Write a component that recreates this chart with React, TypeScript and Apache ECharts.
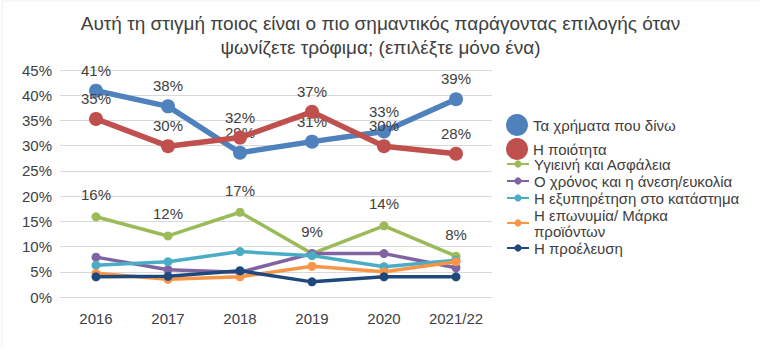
import React, { useEffect, useRef } from "react";
import * as echarts from "echarts";

const categories = ["2016", "2017", "2018", "2019", "2020", "2021/22"];
const seriesNames = [
  "Τα χρήματα που δίνω",
  "Η ποιότητα",
  "Υγιεινή και Ασφάλεια",
  "Ο χρόνος και η άνεση/ευκολία",
  "Η εξυπηρέτηση στο κατάστημα",
  "Η επωνυμία/ Μάρκα\nπροϊόντων",
  "Η προέλευση",
];
const money = [40.9, 37.8, 28.6, 30.8, 32.8, 39.2];
const quality = [35.3, 29.9, 31.6, 36.7, 29.9, 28.4];
const hygiene = [15.9, 12.1, 16.8, 8.6, 14.1, 8.1];
const time = [7.9, 5.4, 4.9, 8.6, 8.6, 5.8];
const service = [6.3, 7.0, 9.0, 8.2, 6.0, 7.3];
const brand = [4.7, 3.5, 4.0, 6.1, 5.0, 7.0];
const origin = [4.0, 4.1, 5.2, 3.0, 4.0, 4.0];
const colors = ["#4F81BD", "#C0504D", "#9BBB59", "#8064A2", "#4BACC6", "#F79646", "#1F497D"];
const seriesData = [money, quality, hygiene, time, service, brand, origin];
const labeled = [true, true, true, false, false, false, false];

const FONT = "'Liberation Sans', Arial, sans-serif";

export default function App() {
  const ref = useRef<HTMLDivElement>(null);
  useEffect(() => {
    document.body.style.margin = "0";
    const chart = echarts.init(ref.current!, null, { renderer: "svg" });
    const series = seriesData.map((d, i) => {
      const big = i < 2;
      return {
        name: seriesNames[i],
        type: "line",
        data: d,
        symbol: "circle",
        symbolSize: big ? 14 : 9,
        z: 2 + i,
        lineStyle: { width: big ? 5.5 : 3.5, color: colors[i] },
        itemStyle: { color: colors[i] },
        label: {
          show: labeled[i],
          position: "top",
          distance: big ? 6 : 10,
          formatter: (p: any) => Math.round(p.value) + "%",
          fontFamily: FONT,
          fontSize: 15,
          color: "#404040",
        },
      };
    });
    chart.setOption({
      animation: false,
      backgroundColor: "#ffffff",
      title: {
        text: "Αυτή τη στιγμή ποιος είναι ο πιο σημαντικός παράγοντας επιλογής όταν\nψωνίζετε τρόφιμα; (επιλέξτε μόνο ένα)",
        left: "center",
        top: 6,
        textStyle: {
          fontFamily: FONT,
          fontSize: 19,
          fontWeight: "normal",
          color: "#404040",
          lineHeight: 24,
        },
      },
      grid: { left: 60, right: 269, top: 70, bottom: 58 },
      xAxis: {
        type: "category",
        data: categories,
        boundaryGap: true,
        axisLine: { show: true, lineStyle: { color: "#d9d9d9" } },
        axisTick: { show: false },
        axisLabel: { fontFamily: FONT, fontSize: 15, color: "#404040", margin: 14 },
      },
      yAxis: {
        type: "value",
        min: 0,
        max: 45,
        interval: 5,
        axisLine: { show: false },
        axisTick: { show: false },
        splitLine: { lineStyle: { color: "#d9d9d9", width: 1 } },
        axisLabel: { fontFamily: FONT, fontSize: 15, color: "#404040", margin: 8, formatter: "{value}%" },
      },
      legend: [
        {
          data: seriesNames.slice(0, 2),
          orient: "vertical",
          left: 501,
          top: 109,
          icon: "circle",
          itemWidth: 22,
          itemHeight: 22,
          itemGap: 2,
          textStyle: { fontFamily: FONT, fontSize: 15, color: "#404040" },
        },
        {
          data: seriesNames.slice(2),
          orient: "vertical",
          left: 501,
          top: 151,
          itemWidth: 22,
          itemHeight: 9,
          itemGap: 1,
          textStyle: { fontFamily: FONT, fontSize: 15, color: "#404040", lineHeight: 16 },
        },
      ],
      graphic: [
        { type: "line", shape: { x1: 2, y1: 1, x2: 760, y2: 1 }, style: { stroke: "#eeeeee", lineWidth: 1 } },
        { type: "line", shape: { x1: 2, y1: 1, x2: 2, y2: 347 }, style: { stroke: "#eeeeee", lineWidth: 1 } },
      ],
      series,
    });
    return () => chart.dispose();
  }, []);
  return <div ref={ref} style={{ width: 761, height: 355 }} />;
}
